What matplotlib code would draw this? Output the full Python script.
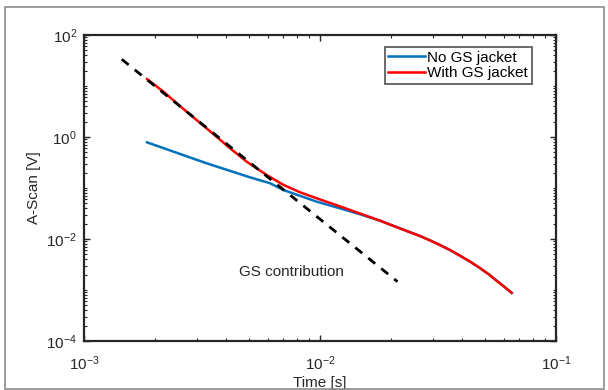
import numpy as np
import matplotlib
matplotlib.use("Agg")
import matplotlib.pyplot as plt
from matplotlib.ticker import LogLocator, NullFormatter
from matplotlib.patches import Rectangle

plt.rcParams['font.family'] = ['Liberation Sans', 'DejaVu Sans']
plt.rcParams['mathtext.default'] = 'regular'

# ---- data ----
t_no = [1.85e-3, 3.31e-3, 5.05e-3, 6.14e-3, 7.0e-3, 9.68e-3, 1.256e-2, 1.48e-2,
        1.795e-2, 2.05e-2, 2.35e-2, 2.65e-2, 2.95e-2, 3.22e-2, 3.55e-2, 3.92e-2,
        4.3e-2, 4.76e-2, 5.2e-2, 5.61e-2, 6.0e-2, 6.49e-2]
v_no = [0.785, 0.305, 0.162, 0.124, 0.0914, 0.054, 0.0382, 0.0305,
        0.0229, 0.0181, 0.0142, 0.0115, 0.00925, 0.0077, 0.0061, 0.0047,
        0.00366, 0.0027, 0.00202, 0.00152, 0.00119, 8.8e-4]

t_gs = [1.85e-3, 2.17e-3, 2.55e-3, 3.0e-3, 3.53e-3, 4.16e-3, 4.89e-3, 5.94e-3,
        7.0e-3, 8.23e-3, 9.68e-3, 1.138e-2, 1.34e-2, 1.795e-2, 2.05e-2, 2.35e-2,
        2.65e-2, 2.95e-2, 3.22e-2, 3.55e-2, 3.92e-2, 4.3e-2, 4.76e-2, 5.2e-2,
        5.61e-2, 6.0e-2, 6.49e-2]
v_gs = [13.7, 7.74, 4.05, 2.15, 1.145, 0.60, 0.328, 0.18,
        0.115, 0.0824, 0.0628, 0.0485, 0.0371, 0.0229, 0.0180, 0.0141,
        0.01145, 0.0092, 0.0076, 0.0061, 0.0047, 0.00365, 0.0027, 0.00201,
        0.00151, 0.00118, 8.8e-4]

t_fit = [1.445e-3, 2.13e-2]
v_fit = [33.4, 1.46e-3]

series_labels = ["No GS jacket", "With GS jacket"]
annot_text = "GS contribution"
annot_pos = (4.55e-3, 2.29e-3)

# ---- figure ----
fig = plt.figure(figsize=(6.08, 3.90), dpi=100)
W, H = 608, 390
ax = fig.add_axes([84 / W, 1 - 341 / H, (556 - 84) / W, (341 - 35) / H])

# outer grey frame
fig.patches.append(Rectangle((5 / W, 1.5 / H), (604 - 5) / W, (383.5 - 1.5) / H,
                             transform=fig.transFigure, fill=False,
                             edgecolor='#8c8c8c', linewidth=1.2))

ax.plot(t_no, v_no, color='#0072BD', lw=1.8, label=series_labels[0], zorder=3)
ax.plot(t_gs, v_gs, color='#FF0000', lw=1.8, label=series_labels[1], zorder=4)
ax.plot(t_fit, v_fit, color='black', lw=2.0, ls=(0, (3.2, 2.8)), zorder=5)
ax.text(annot_pos[0], annot_pos[1], annot_text, fontsize=11, color='#262626',
        va='center', ha='left')

ax.set_xscale('log')
ax.set_yscale('log')
ax.set_xlim(1e-3, 1e-1)
ax.set_ylim(1e-4, 1e2)

ax.set_yticks([1e-4, 1e-2, 1e0, 1e2])
ax.yaxis.set_minor_locator(LogLocator(base=10, subs=np.arange(1, 10), numticks=50))
ax.yaxis.set_minor_formatter(NullFormatter())
ax.xaxis.set_minor_locator(LogLocator(base=10, subs=np.arange(2, 10), numticks=50))
ax.xaxis.set_minor_formatter(NullFormatter())

for s in ax.spines.values():
    s.set_color('#262626')
    s.set_linewidth(1.6)

ax.tick_params(which='both', direction='in', top=True, right=True,
               colors='#262626', labelcolor='#262626', labelsize=11)
ax.tick_params(which='major', length=4.5, width=1.0)
ax.tick_params(which='minor', length=2.5, width=0.8)
ax.tick_params(axis='x', which='major', pad=10)
ax.tick_params(axis='y', which='major', pad=5)

ax.set_xlabel('Time [s]', fontsize=11, color='#262626', labelpad=2)
ax.set_ylabel('A-Scan [V]', fontsize=11, color='#262626', labelpad=4)

leg = ax.legend(loc='upper right', bbox_to_anchor=((532 - 84) / 472, (341 - 47) / 306),
                borderaxespad=0, fontsize=11, frameon=True, fancybox=False,
                edgecolor='#262626', handlelength=2.4, handletextpad=0.15,
                borderpad=0.25, labelspacing=0.1)
leg.get_frame().set_linewidth(1.2)

fig.savefig('out.png', dpi=100)
